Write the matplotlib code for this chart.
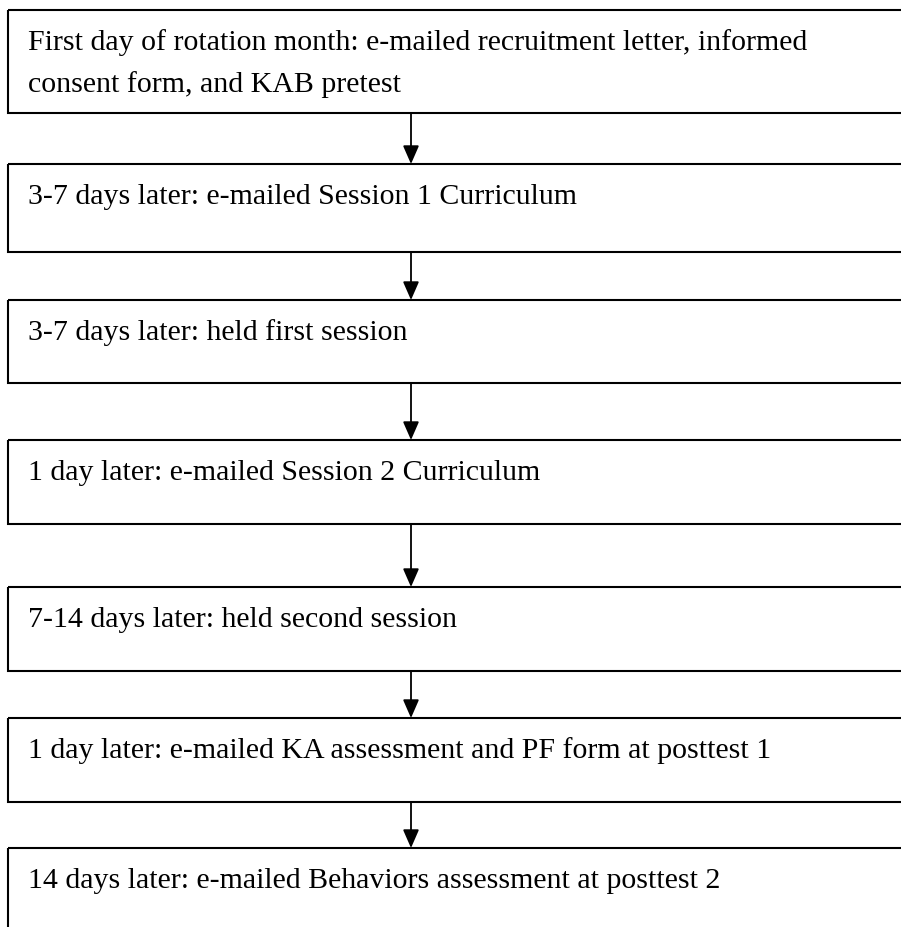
import matplotlib
matplotlib.use("Agg")
import matplotlib.pyplot as plt
from matplotlib.patches import Rectangle, FancyArrowPatch

steps = [
    "First day of rotation month: e-mailed recruitment letter, informed\nconsent form, and KAB pretest",
    "3-7 days later: e-mailed Session 1 Curriculum",
    "3-7 days later: held first session",
    "1 day later: e-mailed Session 2 Curriculum",
    "7-14 days later: held second session",
    "1 day later: e-mailed KA assessment and PF form at posttest 1",
    "14 days later: e-mailed Behaviors assessment at posttest 2",
]
box_tops = [11, 165, 301, 441, 588, 719, 849]
box_bottoms = [114, 253, 384, 525, 672, 803, 1000]

W, H = 901, 928
fig = plt.figure(figsize=(W / 100, H / 100), dpi=100)
ax = fig.add_axes([0, 0, 1, 1])
ax.set_xlim(0, W)
ax.set_ylim(H, 0)
ax.axis("off")

left, right = 8, 960
arrow_x = 411
for i, (txt, t, b) in enumerate(zip(steps, box_tops, box_bottoms)):
    ax.add_patch(Rectangle((left, t), right - left, b - t, fill=False,
                           edgecolor="black", linewidth=1.5, clip_on=True))
    for j, line in enumerate(txt.split("\n")):
        ax.text(28, t + 39 + 42 * j, line, fontsize=21.5, family="Liberation Serif",
                va="baseline", ha="left", color="black")
    if i < len(steps) - 1:
        nt = box_tops[i + 1]
        ax.add_patch(FancyArrowPatch((arrow_x, b), (arrow_x, nt),
                                     arrowstyle="-|>,head_length=0.8,head_width=0.35",
                                     mutation_scale=14, color="black", linewidth=1.3,
                                     shrinkA=0, shrinkB=0))

fig.savefig("out.png", dpi=100, facecolor="white")
